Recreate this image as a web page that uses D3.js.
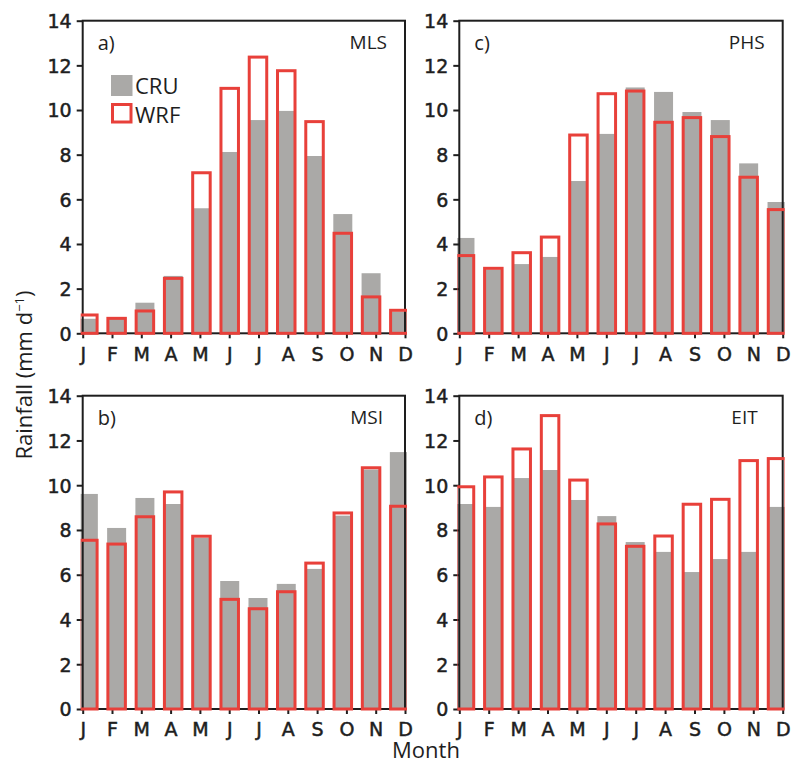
<!DOCTYPE html>
<html>
<head>
<meta charset="utf-8">
<script src="https://cdn.jsdelivr.net/npm/d3@7/dist/d3.min.js"></script>
<style>
  html, body { margin: 0; padding: 0; background: #fff; }
  svg { display: block; }
</style>
</head>
<body>
<svg id="chart" width="797" height="765"></svg>
<script>
const months = ["J","F","M","A","M","J","J","A","S","O","N","D"];
const yTicks = [0, 2, 4, 6, 8, 10, 12, 14];
const seriesNames = ["CRU", "WRF"];

const cruMLS = [0.65, 0.65, 1.37, 2.57, 5.6, 8.12, 9.55, 9.96, 7.94, 5.34, 2.69, 0.97];
const wrfMLS = [0.82, 0.67, 1.0, 2.46, 7.19, 10.97, 12.37, 11.76, 9.48, 4.48, 1.63, 1.03];

const cruPHS = [4.27, 2.85, 3.1, 3.42, 6.82, 8.93, 11.01, 10.81, 9.91, 9.55, 7.61, 5.88];
const wrfPHS = [3.48, 2.91, 3.61, 4.31, 8.88, 10.73, 10.85, 9.45, 9.66, 8.81, 6.99, 5.54];

const cruMSI = [9.61, 8.09, 9.43, 9.16, 7.65, 5.72, 4.96, 5.59, 6.26, 8.64, 10.7, 11.48];
const wrfMSI = [7.54, 7.37, 8.59, 9.70, 7.72, 4.90, 4.48, 5.24, 6.52, 8.76, 10.78, 9.06];

const cruEIT = [9.16, 9.03, 10.32, 10.68, 9.34, 8.62, 7.46, 7.02, 6.12, 6.70, 7.02, 9.03];
const wrfEIT = [9.93, 10.37, 11.62, 13.11, 10.23, 8.27, 7.27, 7.73, 9.15, 9.37, 11.10, 11.19];

const panelTags = ["a)", "b)", "c)", "d)"];
const panelNames = ["MLS", "MSI", "PHS", "EIT"];

const GRAY = "#aaa9a7";
const RED = "#e8403a";
const INK = "#1e1e1e";

const panels = [
  { tag: panelTags[0], name: panelNames[0], cru: cruMLS, wrf: wrfMLS, left: 82.7, right: 405, top: 20.7, bottom: 333.3, nameDx: 18, legend: true },
  { tag: panelTags[2], name: panelNames[2], cru: cruPHS, wrf: wrfPHS, left: 459.3, right: 782.7, top: 20.7, bottom: 333.3, nameDx: 18 },
  { tag: panelTags[1], name: panelNames[1], cru: cruMSI, wrf: wrfMSI, left: 82.7, right: 405, top: 395.7, bottom: 709, nameDx: 22 },
  { tag: panelTags[3], name: panelNames[3], cru: cruEIT, wrf: wrfEIT, left: 459.3, right: 782.7, top: 395.7, bottom: 709, nameDx: 25 }
];

const svg = d3.select("#chart");
const tickFont = "'DejaVu Sans', sans-serif";
const textFont = "'Open Sans', 'Noto Sans', sans-serif";

panels.forEach((p, pi) => {
  const y = d3.scaleLinear().domain([0, 14]).range([p.bottom, p.top]);
  const xTick = d3.scalePoint().domain(d3.range(12)).range([p.left, p.right]);
  const xBar = d3.scaleLinear().domain([-0.2, 11.2]).range([p.left, p.right]);
  const g = svg.append("g");

  const clipId = "clip" + pi;
  g.append("clipPath").attr("id", clipId)
    .append("rect")
    .attr("x", p.left - 2).attr("y", 0)
    .attr("width", p.right - p.left + 4).attr("height", 765);

  const grayW = 19, redW = 17.5;
  g.append("g").attr("clip-path", `url(#${clipId})`)
    .selectAll("rect").data(p.cru).join("rect")
    .attr("x", (d, i) => xBar(i) - grayW / 2)
    .attr("y", d => y(d))
    .attr("width", grayW)
    .attr("height", d => y(0) - y(d))
    .attr("fill", GRAY);

  // frame
  g.append("rect")
    .attr("x", p.left).attr("y", p.top)
    .attr("width", p.right - p.left).attr("height", p.bottom - p.top)
    .attr("fill", "none").attr("stroke", INK).attr("stroke-width", 2);

  // y axis
  const yAxis = d3.axisLeft(y).tickValues(yTicks).tickSize(6).tickPadding(5).tickFormat(d3.format("d"));
  const ya = g.append("g").attr("transform", `translate(${p.left},0)`).call(yAxis);
  ya.select(".domain").remove();
  ya.selectAll("line").attr("stroke", INK).attr("stroke-width", 2);
  ya.selectAll("text").attr("font-family", tickFont).attr("font-size", 19).attr("fill", INK)
    .attr("stroke", INK).attr("stroke-width", 0.5).attr("dy", "0.36em");

  // x axis
  const xAxis = d3.axisBottom(xTick).tickSize(5).tickPadding(9).tickFormat(i => months[i]);
  const xa = g.append("g").attr("transform", `translate(0,${p.bottom})`).call(xAxis);
  xa.select(".domain").remove();
  xa.selectAll("line").attr("stroke", INK).attr("stroke-width", 2);
  xa.selectAll("text").attr("font-family", tickFont).attr("font-size", 19).attr("fill", INK)
    .attr("stroke", INK).attr("stroke-width", 0.5);

  // WRF outlines
  g.append("g").attr("clip-path", `url(#${clipId})`)
    .selectAll("rect").data(p.wrf).join("rect")
    .attr("x", (d, i) => xBar(i) - redW / 2)
    .attr("y", d => y(d))
    .attr("width", redW)
    .attr("height", d => y(0) - y(d))
    .attr("fill", "none")
    .attr("stroke", RED)
    .attr("stroke-width", 3);

  g.append("text").attr("x", p.left + 15).attr("y", p.top + 29)
    .attr("font-family", textFont).attr("font-size", 20).attr("fill", INK).text(p.tag);
  g.append("text").attr("x", p.right - p.nameDx).attr("y", p.top + 28)
    .attr("text-anchor", "end")
    .attr("font-family", textFont).attr("font-size", 19).attr("fill", INK).text(p.name);

  if (p.legend) {
    const lg = g.append("g");
    lg.append("rect").attr("x", 111).attr("y", 75).attr("width", 21.5).attr("height", 21).attr("fill", GRAY);
    lg.append("rect").attr("x", 112.5).attr("y", 104.5).attr("width", 18.5).attr("height", 17.5)
      .attr("fill", "none").attr("stroke", RED).attr("stroke-width", 3);
    lg.append("text").attr("x", 135).attr("y", 94).attr("font-family", textFont).attr("font-size", 22).attr("fill", INK).text(seriesNames[0]);
    lg.append("text").attr("x", 135).attr("y", 122.5).attr("font-family", textFont).attr("font-size", 22).attr("fill", INK).text(seriesNames[1]);
  }
});

// axis titles
const yTitle = svg.append("text")
  .attr("transform", "translate(32,375) rotate(-90)")
  .attr("text-anchor", "middle")
  .attr("font-family", textFont).attr("font-size", 22).attr("fill", INK);
yTitle.append("tspan").text("Rainfall (mm d");
yTitle.append("tspan").attr("font-size", 13).attr("dy", -8).text("−1");
yTitle.append("tspan").attr("dy", 8).text(")");

svg.append("text").attr("x", 426).attr("y", 758)
  .attr("text-anchor", "middle")
  .attr("font-family", textFont).attr("font-size", 22).attr("fill", INK).text("Month");
</script>
</body>
</html>
